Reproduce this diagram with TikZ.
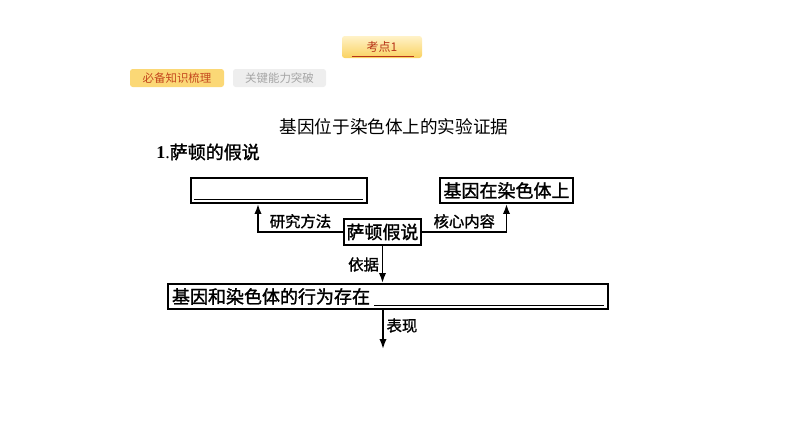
\documentclass[tikz,border=0pt]{standalone}
\usepackage{fontspec}
\setmainfont{Liberation Serif}
\newfontfamily\cjk{Noto Sans CJK SC}
\newfontfamily\cjkb[FakeBold=1.5]{Noto Sans CJK SC}
\definecolor{tabTop}{RGB}{255,242,200}
\definecolor{tabBottom}{RGB}{250,210,96}
\definecolor{tabGold}{RGB}{251,216,118}
\definecolor{tabGrey}{RGB}{238,238,238}
\definecolor{tabRed}{RGB}{183,52,24}
\definecolor{tabText}{RGB}{196,72,30}
\definecolor{greyText}{RGB}{165,165,165}
\usetikzlibrary{
    arrows.meta,
    positioning
}
\tikzset{
    hypoDiagram/.style={
        box/.style={
            rectangle,
            draw,
            line width=1.4pt,
            minimum height=18.75pt,
            inner sep=2pt,
            font=\cjkb\fontsize{13.5}{15}\selectfont,
        },
        relText/.style={
            inner sep=2pt,
            font=\cjkb\fontsize{11.5}{13}\selectfont,
        },
        arrow/.style={
            -{Latex[length=7.5pt,width=5.5pt]},
            line width=1.4pt,
        },
    }
}

\begin{document}
\begin{tikzpicture}[
        x=0.75pt, y=-0.75pt,
        hypoDiagram,
        tabbox/.style={rounded corners=2pt, minimum height=13.5pt, inner sep=0pt, font=\cjk\fontsize{8.6}{10}\selectfont},
    ]
    \useasboundingbox (0,0) rectangle (794,447);

    % tabs at the top
    \node[tabbox, top color=tabTop, bottom color=tabBottom, minimum width=60pt, minimum height=16.5pt,
          text=tabRed, font=\cjk\fontsize{9}{10}\selectfont] (kd) at (382,47) {考点1};
    \draw[tabRed, line width=0.7pt] ([shift={(10,-2)}]kd.south west) -- ([shift={(-8,-2)}]kd.south east);
    \node[tabbox, fill=tabGold, text=tabText, minimum width=70.5pt] (tab_know) at (177,78) {必备知识梳理};
    \node[tabbox, fill=tabGrey, text=greyText, minimum width=69.75pt] (tab_skill) at (279.5,78) {关键能力突破};

    \node[font=\cjk\fontsize{13.2}{15}\selectfont] (title) at (394,127) {基因位于染色体上的实验证据};
    \node[anchor=west, inner sep=0pt, font=\fontsize{13.5}{15}\selectfont] (sub) at (156,152) {\textbf{1}.\cjkb 萨顿的假说};

    \begin{scope}
        \node[box, minimum width=132pt] (method) at (279,190.5) {};
        \draw[line width=0.8pt] ([shift={(4,-4)}]method.south west) -- ([shift={(-5,-4)}]method.south east);
        \node[box, minimum width=99.75pt] (content) at (506.5,190.5) {基因在染色体上};
        \node[box, minimum width=57.75pt, minimum height=19.5pt] (hyp) at (382.5,232) {萨顿假说};
        \node[box, text width=324pt, inner xsep=3pt, align=left] (evid) at (388,296.5) {基因和染色体的行为存在};
        \draw[line width=0.8pt] ([shift={(207,-4)}]evid.south west) -- ([shift={(-5,-4)}]evid.south east);
        \coordinate (show_end) at (383,349);
    \end{scope}

    \draw[arrow] (hyp.west) -| node[relText, above, pos=0.25] {研究方法} ([xshift=-15.75pt]method.south);
    \draw[arrow] (hyp.east) -| node[relText, above, pos=0.25] {核心内容} (content.south);
    \draw[arrow] (hyp.south) -- node[relText, left] {依据} (hyp.south |- evid.north);
    \draw[arrow] (evid.south -| show_end) -- node[relText, right, pos=0.4] {表现} (show_end);
\end{tikzpicture}
\end{document}
